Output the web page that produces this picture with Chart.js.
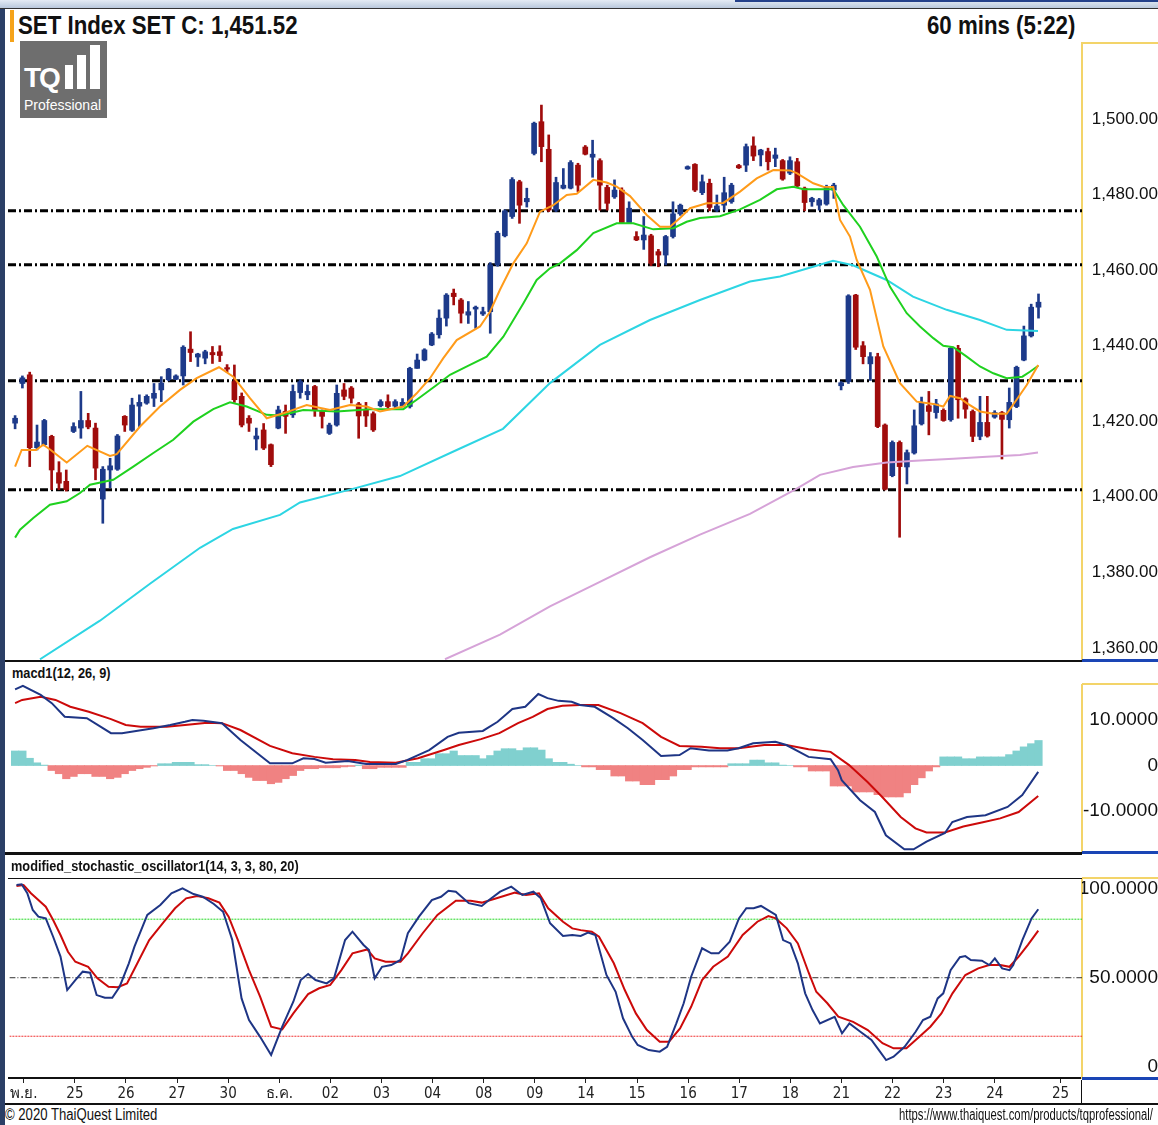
<!DOCTYPE html>
<html lang="th">
<head>
  <meta charset="UTF-8" />
  <title>SET Index 60 mins</title>
  <script src="https://cdn.jsdelivr.net/npm/chart.js@4.4.1/dist/chart.umd.min.js"></script>
  <style>
    html, body { margin: 0; padding: 0; background: #fff; }
    #page { position: relative; width: 1158px; height: 1125px; overflow: hidden; background: #fff;
            font-family: "Liberation Sans", Arial, sans-serif; color: #111; }
    #page div, #page canvas { position: absolute; }
    .title { top: 9px; font-weight: bold; font-size: 26px; line-height: 32px; white-space: nowrap;
             transform: scaleX(0.856); transform-origin: left top; }
    .title.right { transform-origin: right top; }
    .panel-label { font-weight: bold; font-size: 15px; line-height: 18px; white-space: nowrap;
                   transform: scaleX(0.85); transform-origin: left top; }
    .footer { top: 1106px; font-size: 16px; line-height: 18px; white-space: nowrap;
              transform: scaleX(0.82); transform-origin: left top; }
    .footer.url { transform: scaleX(0.705); }
    .black { background: #111; }
    .blue { background: #1a45b5; }
    .yellow { background: #f3d469; }
    #logo { left: 20px; top: 41px; width: 87px; height: 77px; background: #6e6e6e; }
    #logo .tq { left: 4px; top: 23px; font: bold 28px/28px "Liberation Sans", Arial, sans-serif; color: #fff; letter-spacing: -2px; }
    #logo .bar { background: #fff; bottom: 29px; }
    #logo .pro { left: 4px; top: 56px; font: 14px/16px "Liberation Sans", Arial, sans-serif; color: #fff; }
  </style>
</head>
<body>
<div id="page">
  <div style="left:0;top:0;width:1158px;height:8px;background:linear-gradient(#e4ebf4,#b9c8dc);"></div>
  <div style="left:735px;top:0;width:423px;height:2px;background:#23408a;"></div>
  <div style="left:0;top:8px;width:1158px;height:1px;background:#333;"></div>
  <div style="left:0;top:9px;width:5px;height:1116px;background:#2b3f66;"></div>
  <div style="left:10px;top:10px;width:4px;height:32px;background:#f5a31a;"></div>

  <div class="title" style="left:18px;">SET Index SET C: 1,451.52</div>
  <div class="title right" style="right:83px;">60 mins (5:22)</div>

  <div id="logo">
    <div class="tq">TQ</div>
    <div class="bar" style="left:45px;width:8px;height:24px;"></div>
    <div class="bar" style="left:57px;width:9px;height:34px;"></div>
    <div class="bar" style="left:70px;width:10px;height:44px;"></div>
    <div class="pro">Professional</div>
  </div>

  <canvas id="priceChart" width="1150" height="618" style="left:8px;top:42px;"></canvas>
  <canvas id="macdChart" width="1150" height="169" style="left:8px;top:684px;"></canvas>
  <canvas id="stochChart" width="1150" height="236" style="left:8px;top:867px;"></canvas>

  <!-- frame lines -->
  <div class="yellow" style="left:1082px;top:42px;width:76px;height:2px;"></div>
  <div class="black" style="left:5px;top:660px;width:1077px;height:2px;"></div>
  <div class="blue" style="left:1082px;top:659px;width:76px;height:3px;"></div>
  <div class="panel-label" style="left:12px;top:664px;">macd1(12, 26, 9)</div>
  <div class="yellow" style="left:1082px;top:683px;width:76px;height:2px;"></div>
  <div class="black" style="left:5px;top:852px;width:1077px;height:3px;"></div>
  <div class="blue" style="left:1082px;top:851px;width:76px;height:3px;"></div>
  <div class="panel-label" style="left:11px;top:857px;">modified_stochastic_oscillator1(14, 3, 3, 80, 20)</div>
  <div class="black" style="left:8px;top:878px;width:1074px;height:1px;"></div>
  <div class="yellow" style="left:1082px;top:877px;width:76px;height:2px;"></div>
  <div class="blue" style="left:1082px;top:1077px;width:76px;height:3px;"></div>
  <div class="black" style="left:1081px;top:1080px;width:1px;height:24px;"></div>
  <div class="black" style="left:5px;top:1103px;width:1153px;height:2px;"></div>

  <div class="footer" style="left:5px;">© 2020 ThaiQuest Limited</div>
  <div class="footer url" style="left:899px;">https://www.thaiquest.com/products/tqprofessional/</div>
</div>

<script>
  // hourly candles, index 0 = last bar of 23 Nov
  const openP = [1419.5,1430.0,1432.3,1413.0,1413.8,1416.0,1406.4,1404.1,1417.3,1418.2,
    1420.2,1418.2,1399.4,1407.1,1407.3,1421.3,1417.6,1424.0,1424.8,1426.1,
    1428.3,1431.0,1431.1,1432.0,1439.1,1437.0,1436.7,1438.2,1438.4,1434.2,
    1430.5,1426.6,1420.8,1415.3,1417.7,1413.8,1418.2,1422.6,1421.7,1427.6,
    1427.0,1429.2,1422.6,1416.8,1419.0,1428.3,1428.8,1424.6,1423.0,1422.0,
    1424.1,1425.2,1424.0,1424.0,1423.9,1434.0,1436.2,1440.2,1442.9,1447.3,
    1453.9,1452.1,1448.1,1449.7,1448.4,1449.0,1461.4,1469.1,1474.2,1483.4,
    1478.1,1490.9,1499.3,1492.0,1475.9,1481.7,1481.7,1487.8,1492.6,1489.9,
    1489.0,1481.9,1479.4,1481.2,1472.6,1468.9,1468.0,1469.1,1464.9,1464.0,
    1468.9,1474.9,1486.8,1488.0,1480.5,1483.0,1475.9,1477.2,1478.1,1487.7,
    1487.8,1492.9,1490.5,1491.4,1489.6,1489.0,1485.7,1488.7,1481.7,1478.1,
    1477.2,1477.5,1481.2,1429.4,1430.5,1453.4,1440.0,1435.2,1437.1,1419.0,
    1405.6,1414.4,1407.9,1411.6,1419.3,1424.1,1422.3,1422.9,1420.4,1439.3,
    1425.9,1422.6,1416.0,1419.7,1421.1,1422.3,1420.4,1423.9,1436.2,1442.6,
    1450.2];
  const highP = [1421.5,1432.0,1433.0,1419.0,1420.5,1416.3,1409.3,1407.1,1419.6,1427.9,
    1422.1,1419.5,1408.0,1410.2,1416.5,1421.5,1426.1,1427.0,1427.0,1430.0,
    1431.8,1434.0,1432.3,1440.0,1443.7,1438.0,1438.8,1439.8,1440.0,1435.0,
    1434.9,1427.5,1421.5,1418.2,1419.4,1414.0,1424.0,1424.3,1429.6,1431.0,
    1429.6,1429.5,1423.0,1419.5,1429.6,1430.0,1429.2,1425.0,1425.0,1422.5,
    1425.7,1427.0,1425.7,1426.0,1434.3,1437.8,1439.2,1443.5,1449.5,1453.8,
    1455.0,1452.5,1451.7,1450.5,1450.2,1462.0,1470.3,1476.0,1484.5,1483.8,
    1481.7,1499.2,1503.7,1495.8,1484.6,1486.9,1489.0,1488.3,1493.0,1494.4,
    1489.5,1482.5,1483.9,1481.8,1478.1,1470.2,1474.2,1469.5,1465.5,1469.2,
    1478.1,1477.5,1487.6,1488.2,1485.2,1484.1,1479.9,1484.6,1483.0,1488.0,
    1493.4,1495.3,1492.0,1492.3,1492.3,1489.3,1490.0,1489.6,1482.0,1479.3,
    1479.0,1482.5,1483.0,1430.5,1453.5,1453.6,1441.1,1438.2,1438.0,1419.3,
    1414.8,1414.8,1412.4,1423.0,1426.4,1427.9,1425.8,1423.3,1439.6,1440.1,
    1426.2,1423.0,1426.6,1426.6,1422.8,1422.6,1428.8,1434.6,1445.2,1451.0,
    1453.7];
  const lowP = [1418.0,1428.8,1408.0,1412.4,1413.5,1401.9,1401.9,1401.5,1417.0,1415.5,
    1418.0,1404.5,1393.0,1402.4,1407.0,1417.3,1417.3,1418.6,1424.5,1423.9,
    1425.2,1430.7,1431.0,1429.6,1435.8,1434.5,1435.2,1435.3,1435.8,1433.0,
    1425.0,1418.5,1417.3,1412.4,1412.5,1408.0,1418.0,1416.8,1421.0,1426.1,
    1425.7,1421.3,1418.2,1416.5,1418.7,1425.7,1424.8,1415.5,1418.6,1417.3,
    1423.8,1423.5,1423.3,1423.8,1423.5,1434.0,1436.0,1440.0,1442.0,1445.2,
    1450.8,1446.0,1445.9,1444.6,1448.0,1443.3,1461.0,1468.8,1473.7,1472.4,
    1476.7,1490.5,1488.7,1475.5,1475.5,1481.5,1481.5,1480.8,1490.5,1484.6,
    1475.9,1475.9,1479.0,1472.5,1472.3,1467.8,1465.5,1461.2,1460.9,1461.4,
    1468.5,1474.5,1486.7,1480.8,1480.0,1475.7,1475.5,1475.9,1477.7,1486.9,
    1486.1,1489.0,1487.6,1486.5,1487.4,1483.8,1485.3,1482.0,1475.7,1476.9,
    1475.9,1477.2,1479.0,1428.3,1430.0,1439.0,1435.2,1430.8,1418.3,1401.8,
    1405.3,1389.3,1403.4,1411.3,1419.0,1416.4,1420.8,1420.0,1420.0,1420.8,
    1420.8,1414.6,1415.1,1415.8,1420.8,1410.0,1418.2,1423.6,1436.0,1442.3,
    1447.3];
  const closeP = [1420.8,1431.5,1413.0,1414.5,1420.2,1407.1,1403.6,1401.9,1418.6,1420.2,
    1418.5,1407.6,1407.3,1408.2,1416.1,1419.0,1424.3,1425.0,1426.6,1427.4,
    1430.1,1433.8,1432.0,1439.6,1438.2,1437.8,1438.4,1437.6,1437.4,1433.8,
    1425.7,1419.0,1419.5,1416.1,1412.9,1408.5,1423.0,1421.3,1427.9,1430.5,
    1427.9,1423.0,1421.3,1419.0,1427.4,1426.6,1426.1,1421.4,1421.4,1417.7,
    1425.2,1423.9,1425.2,1425.0,1434.0,1436.2,1438.9,1443.1,1447.3,1453.4,
    1453.0,1448.6,1449.0,1450.2,1449.0,1461.4,1469.8,1475.7,1484.0,1477.2,
    1479.0,1498.9,1492.7,1475.9,1483.2,1482.5,1488.5,1482.5,1490.7,1490.7,
    1482.5,1477.7,1481.2,1472.6,1476.4,1468.0,1469.3,1461.8,1464.0,1468.9,
    1474.9,1477.2,1487.4,1481.2,1483.4,1476.6,1477.0,1480.5,1482.5,1487.1,
    1492.7,1490.2,1491.8,1488.7,1490.5,1484.1,1489.0,1482.3,1477.9,1479.0,
    1478.6,1482.1,1482.5,1430.2,1453.2,1439.6,1437.1,1437.1,1418.6,1402.0,
    1414.4,1408.0,1411.7,1418.8,1425.0,1422.6,1424.6,1420.2,1439.3,1425.7,
    1423.2,1416.0,1419.7,1416.1,1422.3,1420.5,1425.0,1434.3,1442.6,1450.2,
    1451.52];

  // moving averages as [bar index, value]
  const maFast = [[0,1408],[0.9,1412.4],[2.86,1412.4],[3.86,1413.8],[4.87,1412.4],[7.06,1409.1],[9.88,1413.5],[12.98,1410.8],[13.9,1411.3],[17.09,1418.6],[19.82,1423.9],[22.56,1428.3],[24.84,1431.4],[27.89,1434.3],[29.85,1431.8],[32.13,1426.1],[34.42,1420.8],[36.69,1422.1],[39.89,1424.3],[43.08,1423],[45.81,1424.3],[48.1,1423.9],[49.92,1422.6],[53.11,1423.9],[54.94,1427.4],[56.76,1431.4],[58.58,1436.7],[60.41,1441.5],[63.6,1445.1],[64.97,1449],[66.33,1454.8],[68.15,1461.8],[69.99,1467.1],[71.81,1475.5],[73.62,1477.2],[75.46,1479.9],[76.83,1480.2],[79.1,1483.9],[80.93,1483.2],[82.3,1482.1],[84.12,1479.6],[86.4,1474.6],[88.22,1471.5],[89.59,1471.5],[90.96,1473.8],[92.33,1476.4],[94.61,1477.7],[96.88,1477.8],[99.17,1480.8],[101.45,1484.3],[103.72,1486.5],[106.01,1486.4],[106.92,1485.7],[109.19,1483],[110.56,1482.1],[111.93,1482],[112.85,1473.3],[114.21,1468.9],[115.13,1462.7],[116.95,1454.8],[118.77,1439.8],[121.05,1430.1],[123.34,1425.2],[125.6,1424.6],[126.98,1423.9],[127.9,1426.7],[129.26,1426.1],[130.18,1424.8],[131.99,1422.6],[133.82,1422],[135.65,1422],[137.0,1425.7],[138.39,1429.6],[139.97,1434.9]];
  const maMid = [[0,1389.2],[0.67,1391.3],[2.49,1394.4],[4.77,1397.9],[7.06,1398.8],[8.88,1401],[10.25,1403.2],[13.43,1404.5],[16.17,1408],[18.91,1411.6],[21.64,1415.1],[24.38,1419.9],[27.11,1423.2],[29.4,1425],[31.68,1423.9],[34.42,1421.7],[36.24,1421.5],[39.42,1423],[43.99,1422.6],[48.55,1423.2],[53.11,1423.2],[54.94,1425.7],[57.67,1429.6],[59.49,1432.3],[62.23,1434.9],[64.51,1437.1],[66.79,1442.4],[69.52,1451.2],[71.35,1457.4],[73.17,1460.5],[74.54,1461.8],[76.83,1465.3],[79.1,1469.8],[82.3,1472.4],[84.57,1472.4],[87.3,1470.8],[90.04,1471.1],[91.87,1472.8],[93.69,1473.8],[96.43,1474.3],[99.17,1476.1],[101.9,1478.6],[104.19,1481.4],[106.46,1482.1],[107.83,1481.4],[111.93,1481.4],[113.3,1477.2],[115.58,1471.5],[117.87,1463.6],[119.69,1455.6],[121.97,1448.6],[123.79,1445.1],[125.61,1442],[126.98,1440],[128.35,1439.6],[130.18,1437.1],[131.99,1434.5],[133.82,1432.7],[135.65,1431.4],[137.79,1431.8],[138.82,1433.1],[139.97,1434.7]];
  const maSlow = [[3.41,1357],[11.61,1367.2],[18.45,1377],[25.3,1386.5],[29.8,1391.5],[36.24,1395.2],[38.97,1398.5],[45.81,1401.9],[52.65,1405.5],[60.41,1412.4],[66.74,1418],[73.17,1430.1],[80,1440.2],[86.85,1446.8],[93.69,1452.1],[100.53,1457],[104.64,1458.3],[109.16,1460.9],[111.89,1462.5],[114.63,1461.3],[119.23,1457.4],[122.83,1453],[127.44,1449.5],[131.99,1446.8],[135.65,1444.2],[139.93,1443.9]];
  const maLong = [[58.81,1357],[66.33,1363.5],[73.17,1371],[80,1377.5],[86.85,1384],[93.69,1390],[100.53,1395.5],[106.69,1401.9],[110.11,1405.8],[114.63,1407.9],[119.23,1409.1],[123.79,1409.6],[128.35,1410.1],[132.91,1410.6],[137.47,1411.1],[139.93,1411.7]];
  const levels = [1475.7, 1461.4, 1430.7, 1401.9];
  const priceTicks = [1360, 1380, 1400, 1420, 1440, 1460, 1480, 1500];

  const macdLine = [[0,16.7],[1.07,17.5],[3.5,15.5],[5.02,13.7],[6.79,10.7],[9.82,10.4],[13.12,7.1],[14.62,7.1],[18.93,8.2],[21.22,8.9],[23.24,9.6],[24.25,10.0],[25.77,9.85],[28.3,9.27],[30.83,5.6],[34.87,0.48],[37.92,0.48],[39.44,1.58],[40.96,1.43],[42.48,0.62],[45.51,0.99],[48.04,0.33],[52.09,0.33],[53.61,1.2],[56.65,3.4],[59.17,6.3],[60.7,7.2],[63.98,7.6],[66.01,9.6],[68.03,12.4],[69.79,12.9],[71.57,15.7],[72.83,14.8],[74.35,14.2],[76.13,14.0],[77.28,13.3],[79.29,12.9],[81.82,10.4],[83.83,8.2],[85.85,5.6],[88.37,2.1],[90.89,2.3],[92.41,3.8],[94.92,3.3],[97.44,3.3],[98.96,3.8],[100.97,4.9],[104.01,5.2],[105.51,4.5],[108.54,1.9],[111.56,1.4],[112.57,-1.0],[113.08,-3.2],[115.59,-7.6],[117.62,-10.2],[119.12,-15.3],[121.65,-18.4],[122.91,-18.4],[124.68,-16.7],[127.2,-14.8],[128.21,-12.4],[130.22,-11.3],[132.75,-10.9],[135.77,-9.1],[137.78,-6.5],[139.96,-1.4]];
  const signalLine = [[0,13.7],[0.97,14.4],[3.5,15.1],[5.53,14.4],[7.55,12.9],[10.08,11.8],[13.12,10.2],[15.14,8.9],[17.17,8.5],[20.71,8.5],[23.24,8.9],[26.28,9.4],[28.3,9.3],[30.83,7.8],[34.87,4.3],[37.92,2.7],[40.96,1.9],[43.49,1.4],[46.53,1.2],[48.55,0.8],[52.09,0.6],[55.12,1.6],[58.67,3.4],[60.7,4.5],[63.73,5.8],[66.25,7.1],[68.8,9.3],[70.81,10.7],[72.83,12.4],[74.86,13.1],[77.29,13.3],[79.79,13.3],[82.82,11.5],[85.85,9.3],[88.37,6.3],[90.89,4.3],[93.91,4.1],[96.44,3.8],[98.96,3.8],[102.49,4.5],[105.51,4.5],[108.54,3.6],[111.56,3.0],[114.09,0.1],[116.61,-3.6],[118.62,-6.9],[121.15,-11.3],[123.16,-13.8],[124.68,-14.7],[127.2,-14.7],[129.71,-13.4],[132.24,-12.5],[134.76,-11.6],[137.28,-10.2],[139.96,-6.7]];
  const macdHist = [3.2,3.2,1.6,0.6,0.1,
    -1.1,-1.8,-2.9,-2.4,-1.8,-1.8,-2.4,-2.4,-2.9,-2.6,-1.8,-1.1,-0.7,-0.4,
    -0.1,0.4,0.4,0.7,0.7,0.7,0.2,0.2,0.0,-0.1,
    -1.1,-1.1,-1.8,-2.6,-3.3,-3.3,-4.0,-3.7,-2.9,-2.2,-1.1,-0.7,-0.7,-0.5,-0.5,-0.5,-0.3,-0.2,0.1,-0.7,-0.7,-0.4,-0.4,-0.4,-0.4,
    0.7,0.7,1.5,1.5,2.6,2.6,3.2,2.2,2.2,2.2,1.5,2.2,3.2,3.7,3.7,3.3,3.9,3.9,3.4,1.5,0.7,0.7,0.3,0.0,
    -0.3,-0.3,-0.9,-0.9,-2.3,-2.3,-3.4,-3.4,-4.2,-4.2,-3.1,-3.1,-2.3,-0.9,-0.9,-0.3,-0.3,-0.3,-0.3,-0.3,
    0.4,0.4,0.4,1.2,1.2,0.6,0.6,0.1,0.0,
    -0.3,-0.3,-1.2,-1.2,-1.2,
    -4.5,-4.5,-4.5,-5.8,-5.8,-5.8,-6.4,-6.9,-6.9,-6.9,-6.0,-4.2,-2.7,-1.2,-0.3,
    1.9,1.9,1.9,1.5,1.5,1.9,1.9,1.9,1.9,2.4,3.2,4.1,4.8,5.5];
  const macdTicks = [-10, 0, 10];

  const stochK = [[0,97.5],[0.71,97.9],[1.48,93.3],[2.23,84.7],[3.0,81.3],[4.01,80.4],[5.02,71.0],[6.03,60.8],[6.95,43.7],[8.06,48.8],[9.07,53.1],[10.08,52.6],[10.98,41.1],[12.11,39.7],[13.12,39.7],[14.13,45.4],[15.39,57.4],[16.16,65.9],[17.92,82.2],[19.7,87.3],[21.22,93.3],[22.74,95.8],[24.25,92.9],[25.51,91.5],[27.03,87.8],[28.3,83.8],[29.56,69.3],[30.83,39.4],[31.85,28.3],[33.37,19.7],[34.88,10.4],[36.4,24.9],[37.92,37.7],[38.93,48.8],[39.95,51.9],[40.96,48.8],[42.48,47.1],[43.49,49.7],[45.01,69.3],[46.02,73.6],[47.54,66.8],[48.29,64.2],[49.06,49.7],[50.07,55.6],[51.33,56.5],[52.6,59.1],[53.61,72.8],[55.13,81.3],[56.89,89.8],[58.15,91.5],[59.17,94.6],[60.18,94.1],[61.96,88.2],[63.73,86.8],[64.73,89.8],[66.25,94.1],[67.77,96.7],[69.29,92.4],[70.81,94.1],[71.82,90.7],[73.09,77.9],[74.86,71.4],[76.13,71.9],[77.28,71.4],[78.29,73.1],[79.29,71.9],[80.81,51.4],[82.07,42.8],[83.08,29.2],[84.34,19.7],[85.09,15.5],[86.61,12.9],[88.11,12.1],[89.12,14.6],[90.38,26.6],[91.39,36.9],[92.41,50.5],[93.91,65.1],[95.18,62.5],[96.18,62.5],[97.7,68.5],[98.96,80.4],[99.97,85.6],[100.97,85.6],[101.98,86.8],[104.01,82.2],[105.01,69.3],[106.02,67.6],[107.03,57.4],[108.03,42.0],[109.04,33.4],[110.05,26.6],[112.07,30.0],[113.08,21.5],[114.09,26.6],[115.59,22.3],[117.11,18.1],[118.13,12.9],[119.12,7.8],[120.14,9.5],[121.65,14.6],[123.16,22.3],[124.17,28.3],[125.18,30.0],[126.18,39.4],[126.95,42.0],[127.95,53.9],[129.22,60.5],[129.97,61.1],[130.72,59.1],[132.24,58.7],[133.24,56.5],[134.01,59.9],[135.01,54.8],[136.02,53.9],[136.53,56.5],[137.78,69.3],[139.04,80.4],[139.96,85.1]];
  const stochD = [[0,97.0],[0.97,97.5],[1.98,93.3],[3.0,89.8],[4.01,86.4],[5.02,79.6],[6.03,71.9],[7.05,63.3],[8.06,58.2],[9.82,55.6],[11.09,49.7],[12.61,45.4],[13.87,45.1],[15.14,47.1],[16.66,58.2],[18.18,69.3],[20.21,78.7],[21.72,85.6],[23.24,90.7],[24.76,91.9],[26.28,90.7],[27.8,88.5],[29.06,81.3],[30.33,69.3],[31.85,53.9],[33.37,40.3],[34.88,24.9],[36.4,23.5],[37.92,31.7],[39.95,41.6],[41.46,44.6],[42.98,46.3],[44.5,53.9],[46.02,62.5],[48.04,64.5],[49.06,59.9],[50.57,58.2],[52.6,58.2],[53.61,62.5],[55.64,72.8],[57.66,82.2],[60.18,89.5],[62.2,89.5],[63.73,88.5],[65.75,90.7],[68.28,93.6],[69.79,92.4],[71.57,93.3],[72.83,85.6],[74.86,78.7],[76.13,75.3],[77.29,74.4],[78.8,73.6],[79.79,71.0],[81.82,57.4],[83.32,43.7],[84.84,31.7],[86.35,23.2],[88.11,17.2],[89.38,17.2],[90.89,24.0],[92.41,35.1],[93.91,48.8],[95.43,55.6],[97.44,60.8],[99.47,71.9],[101.48,78.7],[102.99,81.6],[104.01,80.4],[105.51,75.3],[107.03,67.6],[108.54,52.3],[109.55,42.8],[111.07,36.9],[112.57,30.0],[114.6,27.4],[116.61,23.2],[118.62,16.4],[120.14,13.8],[121.9,13.8],[123.67,19.7],[125.18,24.9],[126.69,31.7],[128.21,42.0],[129.97,51.4],[131.74,54.8],[133.24,56.5],[134.76,56.5],[136.02,55.6],[137.28,60.8],[138.54,66.8],[139.96,74.1]];
  const stochTicks = [0, 50, 100];

  // first bar of each trading day
  const dayTicks = [1, 8, 15, 22, 29, 36, 43, 50, 57, 64, 71, 78, 85, 92, 99, 106, 113, 120, 127, 134, 143];
  const dayLabels = ['พ.ย.', '25', '26', '27', '30', 'ธ.ค.', '02', '03', '04', '08', '09', '14', '15', '16', '17', '18', '21', '22', '23', '24', '25'];

  const X_MIN = -0.97;
  const X_MAX = 145.95;
  const UP = '#1d3a8a', DOWN = '#a00c0c';
  const SANS = '"Liberation Sans", Arial, sans-serif';
  const NARROW = '"Liberation Sans Narrow", "Arial Narrow", "DejaVu Sans Condensed", sans-serif';

  const bars = openP.map((_, i) => i);
  const candleColors = bars.map(i => closeP[i] >= openP[i] ? UP : DOWN);

  function pts(arr) {
    return arr.map(p => ({ x: p[0], y: p[1] }));
  }

  function lineSet(arr, color, width, order) {
    return { type: 'line', data: pts(arr), borderColor: color, borderWidth: width,
             pointRadius: 0, fill: false, tension: 0, order: order };
  }

  function flatLine(v, color, width, dash, order) {
    return { type: 'line', data: [{ x: X_MIN, y: v }, { x: X_MAX, y: v }], borderColor: color,
             borderWidth: width, borderDash: dash, pointRadius: 0, fill: false, order: order };
  }

  function hiddenX() {
    return { type: 'linear', min: X_MIN, max: X_MAX, offset: false, display: false };
  }

  function rightAxis(min, max, tickValues, format, size, lineHeight) {
    return {
      type: 'linear', position: 'right', min: min, max: max, bounds: 'data',
      afterBuildTicks: s => { s.ticks = tickValues.map(v => ({ value: v })); },
      // fixed width, and no extra room reserved for half labels
      afterFit: s => { s.width = 76; s.paddingTop = 0; s.paddingBottom = 0; },
      grid: { display: false, drawTicks: false },
      border: { display: true, color: '#f3d469', width: 2 },
      ticks: { callback: format, crossAlign: 'far', padding: 4, color: '#111',
               font: { family: SANS, size: size, lineHeight: lineHeight || 1.2 } }
    };
  }

  function options(xScale, yScale, padTop) {
    return {
      responsive: false, animation: false, events: [],
      layout: { padding: { top: padTop || 0, left: 0, right: 0, bottom: 0 } },
      plugins: { legend: { display: false }, tooltip: { enabled: false } },
      scales: { x: xScale, y: yScale }
    };
  }

  const fmtPrice = v => v.toLocaleString('en-US', { minimumFractionDigits: 2, maximumFractionDigits: 2 });
  const fmtInd = v => v === 0 ? '0' : v.toFixed(4);
  // end labels sit just inside the panel, as in the original
  const fmtStoch = v => v === 100 ? ['', fmtInd(v)] : v === 0 ? [fmtInd(v), ''] : fmtInd(v);

  // Price panel
  new Chart(document.getElementById('priceChart'), {
    type: 'bar',
    data: {
      datasets: [
        ...levels.map(v => flatLine(v, '#000', 3, [8, 3, 2, 3], 10)),
        { type: 'bar', data: bars.map(i => ({ x: i, y: [lowP[i], highP[i]] })), backgroundColor: candleColors,
          barThickness: 2, grouped: false, order: 6 },
        { type: 'bar', data: bars.map(i => ({ x: i, y: [openP[i], closeP[i]] })), backgroundColor: candleColors,
          barThickness: 5, grouped: false, minBarLength: 1, order: 5 },
        lineSet(maLong, '#d6a3d8', 2, 4),
        lineSet(maSlow, '#2dd5e3', 2, 3),
        lineSet(maMid, '#1fd11f', 2, 2),
        lineSet(maFast, '#ff9b1a', 2, 1)
      ]
    },
    options: options(hiddenX(), rightAxis(1356.8, 1520.4, priceTicks, fmtPrice, 17))
  });

  // MACD panel
  new Chart(document.getElementById('macdChart'), {
    type: 'bar',
    data: {
      datasets: [
        { type: 'bar', data: bars.map(i => ({ x: i, y: macdHist[i] })),
          backgroundColor: macdHist.map(v => v >= 0 ? '#80d0cf' : '#f08282'),
          barThickness: 7.5, grouped: false, order: 5 },
        lineSet(signalLine, '#cc0a0a', 2, 2),
        lineSet(macdLine, '#1e3585', 2, 1)
      ]
    },
    options: options(hiddenX(), rightAxis(-19.2, 17.9, macdTicks, fmtInd, 19))
  });

  // Stochastic panel with the date axis
  const dateAxis = {
    type: 'linear', position: 'bottom', min: X_MIN, max: X_MAX, offset: false,
    afterBuildTicks: s => { s.ticks = dayTicks.map(v => ({ value: v })); },
    afterFit: s => { s.height = 25; },
    grid: { display: true, drawOnChartArea: false, drawTicks: true, tickLength: 5, color: '#222' },
    border: { display: true, color: '#111', width: 2 },
    ticks: { autoSkip: false, maxRotation: 0, padding: 2, color: '#222',
             callback: (v, i) => dayLabels[i], font: { family: NARROW, size: 15 } }
  };

  new Chart(document.getElementById('stochChart'), {
    type: 'line',
    data: {
      datasets: [
        flatLine(80, '#22d822', 1, [2, 1], 10),
        flatLine(50, '#333', 1, [6, 2, 1, 2], 10),
        flatLine(20, '#f03030', 1, [2, 1], 10),
        lineSet(stochD, '#cc0a0a', 2, 2),
        lineSet(stochK, '#1e3585', 2, 1)
      ]
    },
    options: options(dateAxis, rightAxis(-1.4, 100.6, stochTicks, fmtStoch, 19, 0.9), 12)
  });
</script>
</body>
</html>
